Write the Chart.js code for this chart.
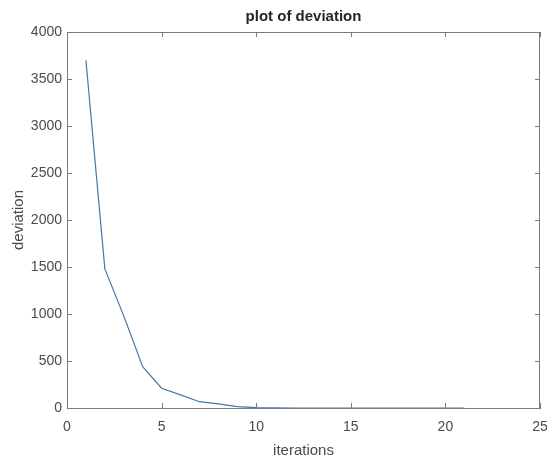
<!DOCTYPE html>
<html>
<head>
<meta charset="utf-8">
<script src="https://cdn.jsdelivr.net/npm/chart.js@4.4.1/dist/chart.umd.min.js"></script>
<style>
  html, body { margin: 0; padding: 0; background: #ffffff; }
  #wrap { width: 547px; height: 460px; }
</style>
</head>
<body>
<div id="wrap"><canvas id="c" width="547" height="460"></canvas></div>
<script>
const iterations = [1, 2, 3, 4, 5, 6, 7, 8, 9, 10, 11, 12, 13, 14, 15, 16, 17, 18, 19, 20, 21];
const deviation = [3700, 1480, 980, 440, 210, 140, 67, 43, 14, 3, 1, 0, 0, 0, 0, 0, 0, 0, 0, 0, 0];
const xTicks = [0, 5, 10, 15, 20, 25];
const yTicks = [0, 500, 1000, 1500, 2000, 2500, 3000, 3500, 4000];

const FONT = "'Liberation Sans', Arial, Helvetica, sans-serif";
const TEXT = '#4a4a4a';
const AXIS = '#7a7a7a';

const boxTicks = {
  id: 'boxTicks',
  afterDraw(chart) {
    const { ctx, chartArea: a, scales: { x, y } } = chart;
    ctx.save();
    ctx.strokeStyle = AXIS;
    ctx.lineWidth = 1;
    ctx.beginPath();
    ctx.moveTo(a.left, a.top + 0.5); ctx.lineTo(a.right, a.top + 0.5);
    ctx.moveTo(a.right - 0.5, a.top); ctx.lineTo(a.right - 0.5, a.bottom);
    const L = 5;
    xTicks.forEach(v => {
      const px = Math.round(x.getPixelForValue(v)) + 0.5;
      ctx.moveTo(px, a.bottom); ctx.lineTo(px, a.bottom - L);
      ctx.moveTo(px, a.top); ctx.lineTo(px, a.top + L);
    });
    yTicks.forEach(v => {
      const py = Math.round(y.getPixelForValue(v)) + 0.5;
      ctx.moveTo(a.left, py); ctx.lineTo(a.left + L, py);
      ctx.moveTo(a.right, py); ctx.lineTo(a.right - L, py);
    });
    ctx.stroke();
    ctx.restore();
  }
};

new Chart(document.getElementById('c'), {
  type: 'line',
  data: {
    datasets: [{
      label: 'deviation',
      data: iterations.map((it, i) => ({ x: it, y: deviation[i] })),
      borderColor: '#4577ab',
      borderWidth: 1.2,
      pointRadius: 0,
      tension: 0,
      fill: false
    }]
  },
  options: {
    responsive: false,
    animation: false,
    devicePixelRatio: 1,
    layout: { padding: { left: 0, right: 7, top: 0, bottom: 0 } },
    plugins: {
      legend: { display: false },
      tooltip: { enabled: false },
      title: {
        display: true,
        text: 'plot of deviation',
        fullSize: false,
        color: '#262626',
        font: { family: FONT, size: 15, weight: 'bold' },
        padding: { top: 8, bottom: 6 }
      }
    },
    scales: {
      x: {
        type: 'linear',
        min: 0, max: 25,
        afterBuildTicks(s) { s.ticks = xTicks.map(v => ({ value: v })); },
        afterFit(s) { s.height = 52; s.paddingRight = 0; s.paddingLeft = 0; },
        grid: { display: false, drawTicks: false },
        border: { display: true, color: AXIS, width: 1 },
        ticks: { color: TEXT, font: { family: FONT, size: 14 }, padding: 11, maxRotation: 0, callback: v => String(v) },
        title: { display: true, text: 'iterations', color: TEXT, font: { family: FONT, size: 15 }, padding: { top: 0, bottom: 0 } }
      },
      y: {
        type: 'linear',
        min: 0, max: 4000,
        afterBuildTicks(s) { s.ticks = yTicks.map(v => ({ value: v })); },
        afterFit(s) { s.width = 67; s.paddingTop = 0; s.paddingBottom = 0; },
        grid: { display: false, drawTicks: false },
        border: { display: true, color: AXIS, width: 1 },
        ticks: { color: TEXT, font: { family: FONT, size: 14 }, padding: 5, callback: v => String(v) },
        title: { display: true, text: 'deviation', color: TEXT, font: { family: FONT, size: 15 }, padding: { top: 10, bottom: 0 } }
      }
    }
  },
  plugins: [boxTicks]
});
</script>
</body>
</html>
